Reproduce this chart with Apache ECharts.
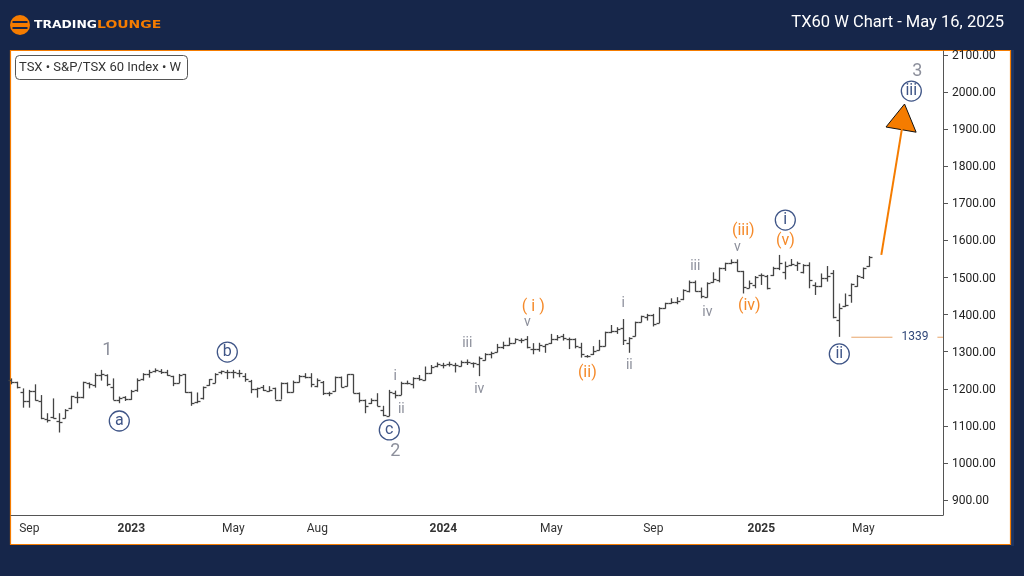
<!DOCTYPE html>
<html>
<head>
<meta charset="utf-8">
<title>TX60 W Chart</title>
<style>
  html, body { margin: 0; padding: 0; background: #16264a; }
  #chart { width: 1024px; height: 576px; }
</style>
<script src="https://cdn.jsdelivr.net/npm/echarts@6/dist/echarts.min.js"></script>
</head>
<body>
<div id="chart"></div>
<script>
// weekly bars, index 0 = week of Aug 15 2022
const opens = [1224,1217,1192,1167,1195,1168,1118,1125,1113,1122,1147,1179,1177,1215,1210,1237,1237,1206,1171,1177,1173,1197,1225,1239,1248,1249,1246,1234,1216,1240,1190,1165,1174,1210,1215,1244,1246,1246,1243,1234,1222,1198,1204,1195,1201,1171,1216,1190,1219,1234,1231,1208,1219,1188,1194,1231,1207,1239,1188,1171,1161,1170,1144,1126,1188,1183,1216,1213,1228,1224,1242,1261,1264,1267,1265,1261,1271,1269,1267,1278,1293,1300,1312,1318,1324,1332,1333,1306,1306,1315,1323,1333,1341,1333,1333,1312,1288,1293,1305,1315,1353,1357,1363,1323,1341,1381,1394,1399,1378,1417,1430,1433,1441,1464,1489,1464,1448,1489,1493,1525,1540,1543,1518,1473,1480,1507,1504,1507,1525,1516,1534,1534,1516,1534,1480,1477,1498,1511,1385,1423,1453,1477,1502,1531];
const highs = [1228,1219,1201,1197,1212,1183,1134,1174,1134,1145,1181,1192,1219,1217,1242,1251,1239,1228,1179,1180,1197,1228,1242,1251,1255,1253,1251,1235,1240,1240,1192,1190,1206,1226,1242,1249,1251,1251,1251,1242,1224,1203,1210,1207,1203,1217,1217,1222,1237,1242,1242,1228,1221,1192,1233,1233,1239,1239,1190,1171,1174,1188,1154,1197,1195,1219,1222,1231,1237,1260,1264,1271,1270,1273,1270,1276,1279,1271,1287,1296,1300,1321,1327,1338,1336,1336,1342,1323,1324,1320,1348,1345,1348,1338,1336,1324,1291,1315,1332,1354,1372,1366,1388,1339,1381,1397,1402,1402,1420,1432,1444,1447,1468,1492,1492,1473,1487,1514,1527,1540,1549,1549,1518,1492,1504,1511,1507,1529,1561,1543,1550,1543,1536,1541,1487,1511,1531,1520,1430,1457,1484,1507,1527,1558];
const lows = [1212,1201,1149,1149,1168,1118,1109,1120,1082,1120,1145,1161,1174,1201,1203,1222,1207,1170,1161,1167,1170,1192,1222,1230,1244,1240,1235,1207,1215,1189,1154,1161,1171,1208,1215,1239,1226,1228,1231,1219,1188,1176,1194,1192,1171,1171,1188,1190,1217,1228,1204,1204,1183,1180,1192,1204,1206,1188,1163,1134,1159,1153,1126,1126,1174,1183,1212,1201,1222,1222,1240,1258,1255,1260,1244,1260,1264,1257,1234,1276,1282,1298,1307,1316,1323,1323,1309,1293,1300,1297,1321,1330,1330,1307,1309,1284,1284,1291,1303,1314,1350,1348,1318,1297,1341,1379,1384,1368,1377,1416,1429,1428,1439,1460,1462,1444,1446,1486,1487,1518,1536,1516,1457,1471,1471,1480,1468,1504,1520,1495,1531,1518,1511,1471,1453,1474,1489,1390,1340,1421,1432,1475,1496,1529];
const closes = [1219,1206,1167,1195,1170,1120,1116,1122,1111,1144,1180,1177,1217,1213,1238,1239,1212,1171,1176,1173,1195,1224,1239,1245,1251,1246,1236,1216,1238,1192,1162,1167,1206,1225,1239,1248,1246,1245,1242,1226,1199,1201,1197,1197,1171,1216,1190,1219,1235,1231,1212,1224,1188,1188,1233,1206,1239,1189,1171,1154,1170,1154,1129,1192,1183,1216,1215,1230,1225,1242,1260,1267,1264,1267,1265,1273,1271,1269,1282,1293,1296,1312,1318,1323,1333,1332,1312,1306,1318,1320,1334,1339,1338,1333,1315,1294,1288,1303,1315,1352,1355,1360,1332,1338,1381,1396,1400,1375,1417,1430,1435,1438,1466,1489,1464,1450,1484,1495,1525,1538,1543,1518,1475,1486,1502,1507,1473,1525,1540,1531,1536,1538,1534,1493,1477,1498,1504,1394,1417,1426,1482,1504,1525,1556];

// bottom axis labels, positions are bar indexes
const timeTicks = [3, 20, 37, 51, 72, 90, 107, 125, 142];
const timeLabels = ['Sep', '2023', 'May', 'Aug', '2024', 'May', 'Sep', '2025', 'May'];
const priceTicks = [900, 1000, 1100, 1200, 1300, 1400, 1500, 1600, 1700, 1800, 1900, 2000, 2100];

// wave counts: [bar index, price, text]
const grayLabels = [[64,1234,'i'],[65,1143,'ii'],[76,1321,'iii'],[78,1197,'iv'],[86,1380,'v'],[102,1429,'i'],[103,1264,'ii'],[114,1531,'iii'],[116,1407,'iv'],[121,1582,'v']];
const grayBigLabels = [[16,1304,'1'],[64,1032,'2'],[151,2057,'3']];
const orangeLabels = [[87,1420,'( i )'],[96,1243,'(ii)'],[122,1625,'(iii)'],[123,1423,'(iv)'],[129,1598,'(v)']];
const circleLabels = [[18,1113,'a'],[36,1299,'b'],[63,1089,'c'],[129,1655,'i'],[138,1294,'ii'],[150,2003,'iii']];

// projected move and the low it starts from
const arrowLine = [[145,1561],[148.45,1903]];
const arrowHead = [[148.87,1968],[145.78,1906],[150.8,1892]];
const lowLine = [[140,1339],[155.28,1339]];
const lowLabel = [[150.6,1339,'1339']];

const NAVY = '#16264a';
const LABEL_NAVY = '#2f4678';
const CIRCLE_NAVY = '#3f5587';
const ORANGE = '#f57c00';
const FONT = 'Roboto';

function renderBar(params, api) {
  const x = api.coord([api.value(0), api.value(1)])[0];
  const px = Math.round(x) + 0.5;
  const yO = Math.round(api.coord([0, api.value(1)])[1]) + 0.5;
  const yH = api.coord([0, api.value(2)])[1];
  const yL = api.coord([0, api.value(3)])[1];
  const yC = Math.round(api.coord([0, api.value(4)])[1]) + 0.5;
  const style = { stroke: '#444', lineWidth: 1.3, fill: null };
  return {
    type: 'group',
    children: [
      { type: 'line', shape: { x1: px, y1: yH, x2: px, y2: yL }, style },
      { type: 'line', shape: { x1: px - 3, y1: yO, x2: px, y2: yO }, style },
      { type: 'line', shape: { x1: px, y1: yC, x2: px + 3, y2: yC }, style }
    ]
  };
}

function renderArrowHead(params, api) {
  if (params.dataIndex > 0) return;
  const points = arrowHead.map(p => api.coord(p));
  return {
    type: 'polygon',
    shape: { points },
    style: { fill: '#f57c00', stroke: '#111', lineWidth: 1 }
  };
}

function textSeries(list, color, fontSize, extra, labelExtra) {
  return Object.assign({
    type: 'scatter',
    silent: true,
    symbolSize: 0,
    z: 5,
    data: list,
    itemStyle: { opacity: 1 },
    label: Object.assign({
      show: true,
      position: 'inside',
      formatter: p => p.value[2],
      color,
      fontSize,
      fontFamily: FONT
    }, labelExtra || {})
  }, extra || {});
}

const chart = echarts.init(document.getElementById('chart'));
chart.setOption({
  animation: false,
  backgroundColor: NAVY,
  title: [
    {
      text: 'TX60 W Chart - May 16, 2025',
      right: 20,
      top: 14,
      padding: [0, 0, 0, 0],
      textStyle: { color: '#fff', fontSize: 16.5, fontWeight: 'normal', fontFamily: FONT }
    },
    {
      text: 'TSX • S&P/TSX 60 Index • W',
      left: 15,
      top: 55,
      padding: [6, 7, 5, 4],
      borderColor: '#555',
      borderWidth: 1,
      borderRadius: 4,
      textStyle: { color: '#333', fontSize: 13, fontWeight: 'normal', fontFamily: FONT, lineHeight: 14 }
    }
  ],
  grid: { left: 11, right: 81, top: 51, bottom: 61 },
  xAxis: {
    type: 'value',
    min: -0.05,
    max: 155.28,
    splitLine: { show: false },
    axisLine: { onZero: false, lineStyle: { color: '#555' } },
    axisTick: { show: false },
    axisLabel: {
      customValues: timeTicks,
      showMinLabel: true,
      showMaxLabel: true,
      margin: 8,
      fontSize: 12,
      fontFamily: FONT,
      color: '#333',
      formatter: v => {
        const text = timeLabels[timeTicks.indexOf(v)];
        return /^\d/.test(text) ? '{year|' + text + '}' : text;
      },
      rich: { year: { fontWeight: 'bold', fontSize: 12, fontFamily: FONT, color: '#333' } }
    }
  },
  yAxis: {
    type: 'value',
    position: 'right',
    min: 859.5,
    max: 2111,
    splitLine: { show: false },
    axisLine: { show: true, onZero: false, lineStyle: { color: '#555' } },
    axisTick: { show: true, customValues: priceTicks, length: 5, lineStyle: { color: '#555' } },
    axisLabel: {
      customValues: priceTicks,
      margin: 9,
      formatter: v => '{p|' + v.toFixed(2) + '}',
      rich: { p: { fontSize: 12, fontFamily: FONT, color: '#222', padding: [2, 0, 0, 0] } }
    }
  },
  graphic: [
    { type: 'rect', z: -10, shape: { x: 1011, y: 50, width: 3, height: 496 }, style: { fill: '#1d3461' } },
    { type: 'rect', z: -9, shape: { x: 10.5, y: 50.5, width: 1000, height: 494 }, style: { fill: '#fff', stroke: ORANGE, lineWidth: 1.2 } },
    { type: 'circle', shape: { cx: 20, cy: 25, r: 10 }, style: { fill: ORANGE } },
    { type: 'rect', shape: { x: 12.5, y: 21, width: 15, height: 2 }, style: { fill: NAVY } },
    { type: 'rect', shape: { x: 12.5, y: 27, width: 15, height: 2 }, style: { fill: NAVY } },
    { type: 'text', x: 34, y: 20, scaleX: 1.125, style: { text: 'TRADING', fill: '#fff', font: 'bold 11px "DejaVu Sans"' } },
    { type: 'text', x: 97, y: 20, scaleX: 1.27, style: { text: 'LOUNGE', fill: ORANGE, font: 'bold 11px "DejaVu Sans"' } }
  ],
  series: [
    {
      type: 'custom',
      name: 'TX60',
      silent: true,
      z: 3,
      renderItem: renderBar,
      encode: { x: 0, y: [1, 2, 3, 4] },
      data: opens.map((o, i) => [i, o, highs[i], lows[i], closes[i]])
    },
    {
      type: 'line',
      silent: true,
      z: 4,
      symbol: 'none',
      lineStyle: { color: ORANGE, width: 2 },
      data: arrowLine
    },
    {
      type: 'custom',
      silent: true,
      z: 4,
      renderItem: renderArrowHead,
      data: arrowHead
    },
    {
      type: 'line',
      silent: true,
      z: 4,
      symbol: 'none',
      lineStyle: { color: '#e8a468', width: 1 },
      data: lowLine
    },
    textSeries(lowLabel, LABEL_NAVY, 12, null, { backgroundColor: '#fff', padding: [2, 9, 2, 9] }),
    textSeries(grayLabels, '#8d909c', 14),
    textSeries(grayBigLabels, '#8d909c', 18),
    textSeries(orangeLabels, '#f58a2a', 16),
    textSeries(circleLabels, CIRCLE_NAVY, 16, {
      symbol: 'circle',
      symbolSize: 20,
      itemStyle: { color: '#fff', borderColor: CIRCLE_NAVY, borderWidth: 1.3, opacity: 1 }
    })
  ]
});
</script>
</body>
</html>
